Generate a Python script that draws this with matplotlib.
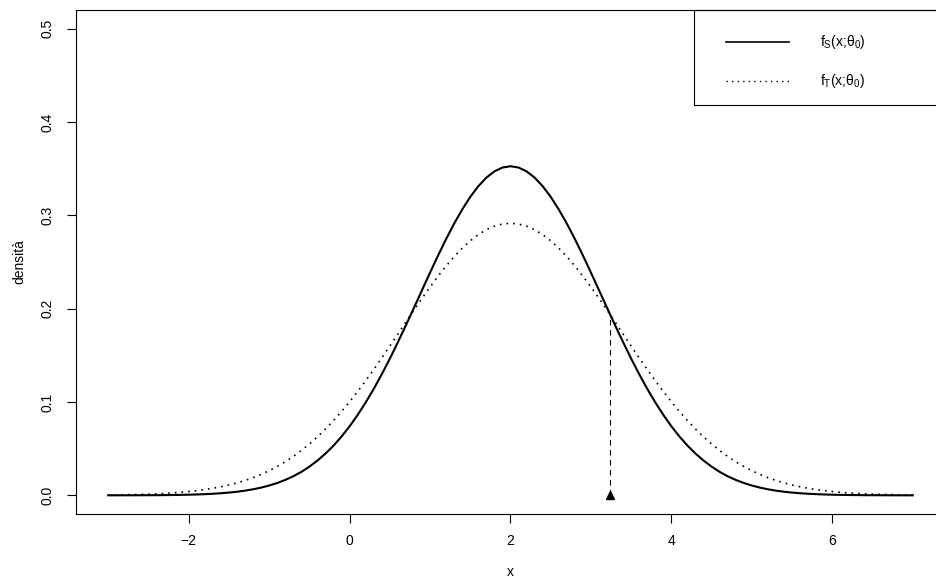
#!/usr/bin/env python
from __future__ import annotations

import matplotlib

matplotlib.use("Agg")
import matplotlib.pyplot as plt
from matplotlib.lines import Line2D
from matplotlib.patches import Rectangle

x_vals = [
    -3.0, -2.9, -2.8, -2.7, -2.6, -2.5, -2.4, -2.3, -2.2, -2.1,
    -2.0, -1.9, -1.8, -1.7, -1.6, -1.5, -1.4, -1.3, -1.2, -1.1,
    -1.0, -0.9, -0.8, -0.7, -0.6, -0.5, -0.4, -0.3, -0.2, -0.1,
    0.0, 0.1, 0.2, 0.3, 0.4, 0.5, 0.6, 0.7, 0.8, 0.9,
    1.0, 1.1, 1.2, 1.3, 1.4, 1.5, 1.6, 1.7, 1.8, 1.9,
    2.0, 2.1, 2.2, 2.3, 2.4, 2.5, 2.6, 2.7, 2.8, 2.9,
    3.0, 3.1, 3.2, 3.3, 3.4, 3.5, 3.6, 3.7, 3.8, 3.9,
    4.0, 4.1, 4.2, 4.3, 4.4, 4.5, 4.6, 4.7, 4.8, 4.9,
    5.0, 5.1, 5.2, 5.3, 5.4, 5.5, 5.6, 5.7, 5.8, 5.9,
    6.0, 6.1, 6.2, 6.3, 6.4, 6.5, 6.6, 6.7, 6.8, 6.9,
    7.0,
]

# f_S(x; theta_0), solid curve
f_s = [
    0.00002, 0.00003, 0.00004, 0.00006, 0.00009, 0.00013, 0.00018, 0.00026, 0.00036, 0.00050,
    0.00068, 0.00093, 0.00125, 0.00168, 0.00223, 0.00294, 0.00386, 0.00501, 0.00646, 0.00826,
    0.0105, 0.0132, 0.0165, 0.0204, 0.0251, 0.0307, 0.0372, 0.0447, 0.0532, 0.0630,
    0.0739, 0.0861, 0.0995, 0.1140, 0.1297, 0.1464, 0.1640, 0.1822, 0.2009, 0.2198,
    0.2386, 0.2570, 0.2746, 0.2912, 0.3063, 0.3198, 0.3312, 0.3404, 0.3471, 0.3512,
    0.3526, 0.3512, 0.3471, 0.3404, 0.3312, 0.3198, 0.3063, 0.2912, 0.2746, 0.2570,
    0.2386, 0.2198, 0.2009, 0.1822, 0.1640, 0.1464, 0.1297, 0.1140, 0.0995, 0.0861,
    0.0739, 0.0630, 0.0532, 0.0447, 0.0372, 0.0307, 0.0251, 0.0204, 0.0165, 0.0132,
    0.0105, 0.00826, 0.00646, 0.00501, 0.00386, 0.00294, 0.00223, 0.00168, 0.00125, 0.00093,
    0.00068, 0.00050, 0.00036, 0.00026, 0.00018, 0.00013, 0.00009, 0.00006, 0.00004, 0.00003,
    0.00002,
]

# f_T(x; theta_0), dotted curve
f_t = [
    0.00037, 0.00048, 0.00062, 0.00080, 0.00103, 0.00131, 0.00166, 0.00209, 0.00263, 0.00328,
    0.00407, 0.00503, 0.00617, 0.00754, 0.00917, 0.0111, 0.0133, 0.0159, 0.0189, 0.0224,
    0.0264, 0.0309, 0.0359, 0.0416, 0.0480, 0.0550, 0.0626, 0.0710, 0.0801, 0.0898,
    0.1002, 0.1112, 0.1227, 0.1348, 0.1472, 0.1599, 0.1727, 0.1857, 0.1985, 0.2110,
    0.2232, 0.2348, 0.2457, 0.2558, 0.2648, 0.2727, 0.2793, 0.2846, 0.2884, 0.2907,
    0.2915, 0.2907, 0.2884, 0.2846, 0.2793, 0.2727, 0.2648, 0.2558, 0.2457, 0.2348,
    0.2232, 0.2110, 0.1985, 0.1857, 0.1727, 0.1599, 0.1472, 0.1348, 0.1227, 0.1112,
    0.1002, 0.0898, 0.0801, 0.0710, 0.0626, 0.0550, 0.0480, 0.0416, 0.0359, 0.0309,
    0.0264, 0.0224, 0.0189, 0.0159, 0.0133, 0.0111, 0.00917, 0.00754, 0.00617, 0.00503,
    0.00407, 0.00328, 0.00263, 0.00209, 0.00166, 0.00131, 0.00103, 0.00080, 0.00062, 0.00048,
    0.00037,
]

# right-hand crossing point of the two curves
x_cross = 3.24
y_cross = 0.1934

x_ticks = [-2, 0, 2, 4, 6]
x_tick_labels = ["\u22122", "0", "2", "4", "6"]
y_ticks = [0.0, 0.1, 0.2, 0.3, 0.4, 0.5]
y_tick_labels = ["0.0", "0.1", "0.2", "0.3", "0.4", "0.5"]

legend_labels = ["f$_S$(x;\u03b8$_0$)", "f$_T$(x;\u03b8$_0$)"]


def main() -> None:
    plt.rcParams["font.family"] = ["Liberation Sans", "DejaVu Sans"]
    plt.rcParams["mathtext.fontset"] = "custom"
    plt.rcParams["mathtext.rm"] = "Liberation Sans"
    plt.rcParams["mathtext.it"] = "Liberation Sans"
    plt.rcParams["mathtext.default"] = "regular"

    W, H = 936, 582
    fig = plt.figure(figsize=(W / 100, H / 100), dpi=100)

    # axes box in pixels (right edge runs past the image, as in the reference)
    left, right, top, bottom = 76, 945, 10, 514
    ax = fig.add_axes([left / W, (H - bottom) / H, (right - left) / W, (bottom - top) / H])

    ax.plot(x_vals, f_s, color="black", lw=1.5)
    ax.plot(x_vals, f_t, color="black", lw=1.2, linestyle=(0, (1, 3)))

    ax.plot([x_cross, x_cross], [0, y_cross], color="black", lw=0.8, linestyle=(0, (5, 4)))
    ax.plot([x_cross], [0], marker="^", color="black", markersize=5.5, linestyle="none")

    ax.set_xlim(-3.4, 7.4)
    ax.set_ylim(-0.02, 0.52)
    ax.set_xticks(x_ticks)
    ax.set_xticklabels(x_tick_labels)
    ax.set_yticks(y_ticks)
    ax.set_yticklabels(y_tick_labels, rotation=90, va="center")
    ax.tick_params(axis="both", direction="out", length=6.5, width=0.8, labelsize=10, pad=8)
    ax.tick_params(axis="y", pad=9)

    for sp in ax.spines.values():
        sp.set_linewidth(0.8)
        sp.set_color("black")

    ax.set_xlabel("x", fontsize=10, labelpad=12.5)
    ax.set_ylabel("densit\u00e0", fontsize=10, labelpad=10)

    # legend box drawn by hand, flush with the top-right corner
    def ax_x(px):
        return (px - left) / (right - left)

    def ax_y(py):
        return (bottom - py) / (bottom - top)

    ax.add_patch(Rectangle((ax_x(694), ax_y(105)), 1 - ax_x(694), 1 - ax_y(105),
                           transform=ax.transAxes, fill=False, edgecolor="black",
                           lw=0.8, clip_on=False))
    rows = [41.7, 81.0]
    styles = [dict(lw=1.2, linestyle="-"), dict(lw=1.0, linestyle=(0, (1, 3)))]
    for row, style, label in zip(rows, styles, legend_labels):
        ax.add_line(Line2D([ax_x(726), ax_x(789)], [ax_y(row), ax_y(row)],
                           transform=ax.transAxes, color="black", clip_on=False, **style))
        ax.text(ax_x(820), ax_y(row), label, transform=ax.transAxes,
                ha="left", va="center", fontsize=10)

    fig.savefig("out.png", dpi=100)


if __name__ == "__main__":
    main()
